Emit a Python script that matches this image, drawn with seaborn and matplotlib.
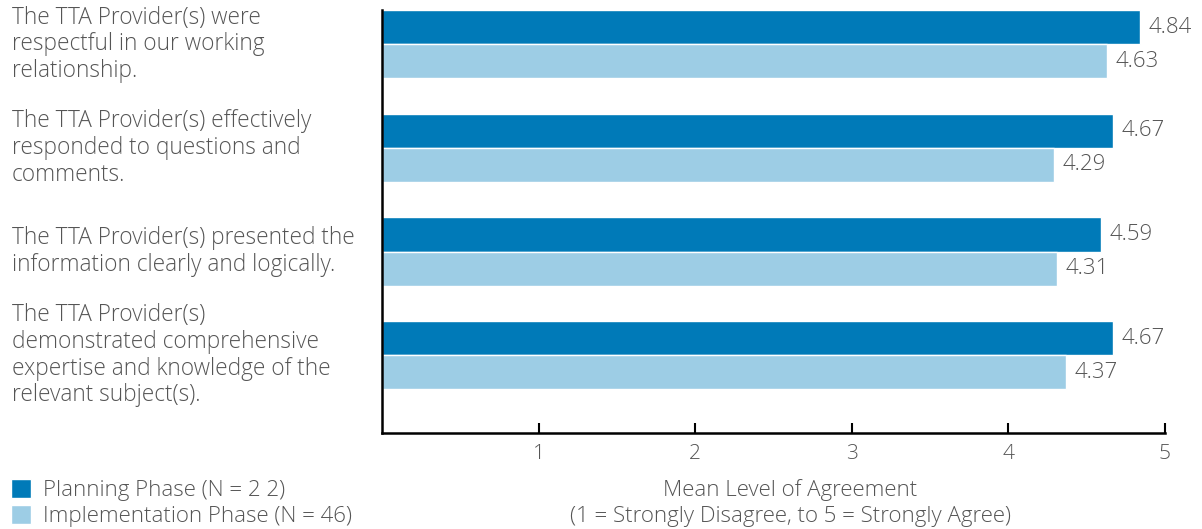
import pandas as pd
import matplotlib.pyplot as plt
import seaborn as sns

# Survey statements (wrapped as in the report)
statements = [
    "The TTA Provider(s) were\nrespectful in our working\nrelationship.",
    "The TTA Provider(s) effectively\nresponded to questions and\ncomments.",
    "The TTA Provider(s) presented the\ninformation clearly and logically.",
    "The TTA Provider(s)\ndemonstrated comprehensive\nexpertise and knowledge of the\nrelevant subject(s).",
]
phases = ["Planning Phase (N = 2 2)", "Implementation Phase (N = 46)"]
planning = [4.84, 4.67, 4.59, 4.67]
implementation = [4.63, 4.29, 4.31, 4.37]
xticks = [1, 2, 3, 4, 5]

DARK = "#007AB8"
LIGHT = "#9DCDE5"
TEXT = "#555555"

df = pd.DataFrame({
    "statement": statements * 2,
    "phase": [phases[0]] * 4 + [phases[1]] * 4,
    "score": planning + implementation,
})

sns.set_style("white")
plt.rcParams["font.family"] = ["Open Sans", "DejaVu Sans"]
plt.rcParams["font.weight"] = "light"

fig = plt.figure(figsize=(12.02, 5.29), dpi=100)
ax = fig.add_axes([382 / 1202, 1 - 433 / 529, (1165 - 382) / 1202, (433 - 10) / 529])

sns.barplot(data=df, x="score", y="statement", hue="phase", orient="h",
            palette=[DARK, LIGHT], width=0.66, saturation=1, ax=ax)

for cont in ax.containers:
    ax.bar_label(cont, fmt="%.2f", padding=6, fontsize=16, color=TEXT)

ax.set_xlim(0, 5)
ax.set_ylim(3.75, -0.33)
ax.set_xticks(xticks)
ax.set_xlabel("")
ax.set_ylabel("")

# category labels, left-aligned at the figure edge
ypos = ax.get_yticks()
ax.set_yticklabels([])
for y, txt in zip(ypos, statements):
    ax.text(-370 / 783, y, txt, transform=ax.get_yaxis_transform(), ha="left",
            va="center", fontsize=16.3, color=TEXT, linespacing=1.15)

ax.tick_params(axis="x", direction="in", length=7, width=1.5, colors="black",
               labelcolor=TEXT, labelsize=15, pad=8, bottom=True)
ax.tick_params(axis="y", length=0)

for side in ["top", "right"]:
    ax.spines[side].set_visible(False)
for side in ["left", "bottom"]:
    ax.spines[side].set_color("black")
    ax.spines[side].set_linewidth(1.8)

handles, labels = ax.get_legend_handles_labels()
ax.get_legend().remove()
fig.legend(handles, labels, loc="lower left", bbox_to_anchor=(11 / 1202, 2 / 529),
           frameon=False, fontsize=16, labelcolor=TEXT, handlelength=0.9,
           handleheight=0.9, handletextpad=0.55, labelspacing=0.18,
           borderpad=0, borderaxespad=0)

fig.text(790 / 1202, 1 - 503 / 529,
         "Mean Level of Agreement\n(1 = Strongly Disagree, to 5 = Strongly Agree)",
         ha="center", va="center", fontsize=16, color=TEXT, linespacing=1.26)

fig.savefig("out.png", dpi=100)
